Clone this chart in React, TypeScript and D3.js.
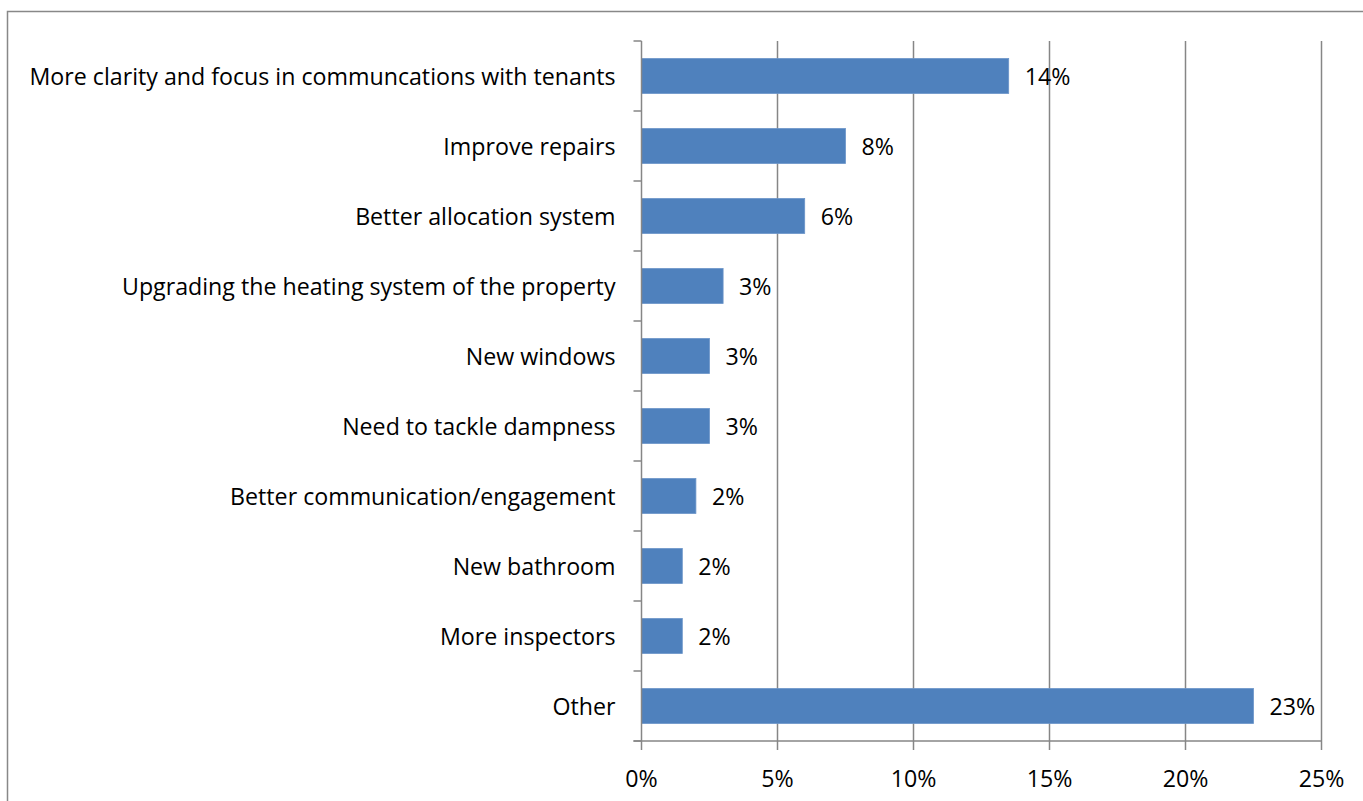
import React from "react";
import * as d3 from "d3";

const categories = [
  "More clarity and focus in communcations with tenants",
  "Improve repairs",
  "Better allocation system",
  "Upgrading the heating system of the property",
  "New windows",
  "Need to tackle dampness",
  "Better communication/engagement",
  "New bathroom",
  "More inspectors",
  "Other",
];
const values = [13.5, 7.5, 6.0, 3.0, 2.5, 2.5, 2.0, 1.5, 1.5, 22.5];
const valueLabels = ["14%", "8%", "6%", "3%", "3%", "3%", "2%", "2%", "2%", "23%"];
const xTicks = [0, 5, 10, 15, 20, 25];

const W = 1363;
const H = 801;
const left = 641.5;
const right = 1321.5;
const top = 41;
const bottom = 741;
const FONT = "'Open Sans', 'Noto Sans', sans-serif";
const FS = 23.2;

export default function App() {
  const x = d3.scaleLinear().domain([0, 25]).range([left, right]);
  const y = d3.scaleBand<string>().domain(categories).range([top, bottom]).paddingInner(0.5).paddingOuter(0.25);
  const bandEdges = d3.range(categories.length + 1).map((i) => top + ((bottom - top) / categories.length) * i);
  const gridColor = "#868686";
  return (
    <svg width={W} height={H} style={{ position: "absolute", left: 0, top: 0, background: "#fff" }}>
      <rect x={7.5} y={11.5} width={W + 10} height={H + 10} fill="#fff" stroke="#888" strokeWidth={1.5} />
      {xTicks.slice(1).map((t) => (
        <line key={"g" + t} x1={x(t)} x2={x(t)} y1={top} y2={bottom} stroke={gridColor} strokeWidth={1.5} />
      ))}
      {categories.map((c, i) => (
        <rect key={"b" + i} x={x(0)} y={y(c)!} width={x(values[i]) - x(0)} height={y.bandwidth()} fill="#4F81BD" stroke="#6b95c9" strokeWidth={0.8} />
      ))}
      <line x1={left} x2={left} y1={top} y2={bottom} stroke={gridColor} strokeWidth={1.5} />
      {bandEdges.map((e, i) => (
        <line key={"yt" + i} x1={left - 8} x2={left} y1={e} y2={e} stroke={gridColor} strokeWidth={1.5} />
      ))}
      <line x1={left - 8} x2={right} y1={bottom} y2={bottom} stroke={gridColor} strokeWidth={1.5} />
      {xTicks.map((t) => (
        <line key={"xt" + t} x1={x(t)} x2={x(t)} y1={bottom} y2={bottom + 9} stroke={gridColor} strokeWidth={1.5} />
      ))}
      {xTicks.map((t) => (
        <text key={"xl" + t} x={x(t)} y={778} textAnchor="middle" dominantBaseline="central" fontFamily={FONT} fontSize={FS} fill="#000">
          {t + "%"}
        </text>
      ))}
      {categories.map((c, i) => (
        <text key={"cl" + i} x={left - 26} y={y(c)! + y.bandwidth() / 2} textAnchor="end" dominantBaseline="central" fontFamily={FONT} fontSize={FS} fill="#000">
          {c}
        </text>
      ))}
      {categories.map((c, i) => (
        <text key={"vl" + i} x={x(values[i]) + 16} y={y(c)! + y.bandwidth() / 2} textAnchor="start" dominantBaseline="central" fontFamily={FONT} fontSize={FS} fill="#000">
          {valueLabels[i]}
        </text>
      ))}
    </svg>
  );
}
